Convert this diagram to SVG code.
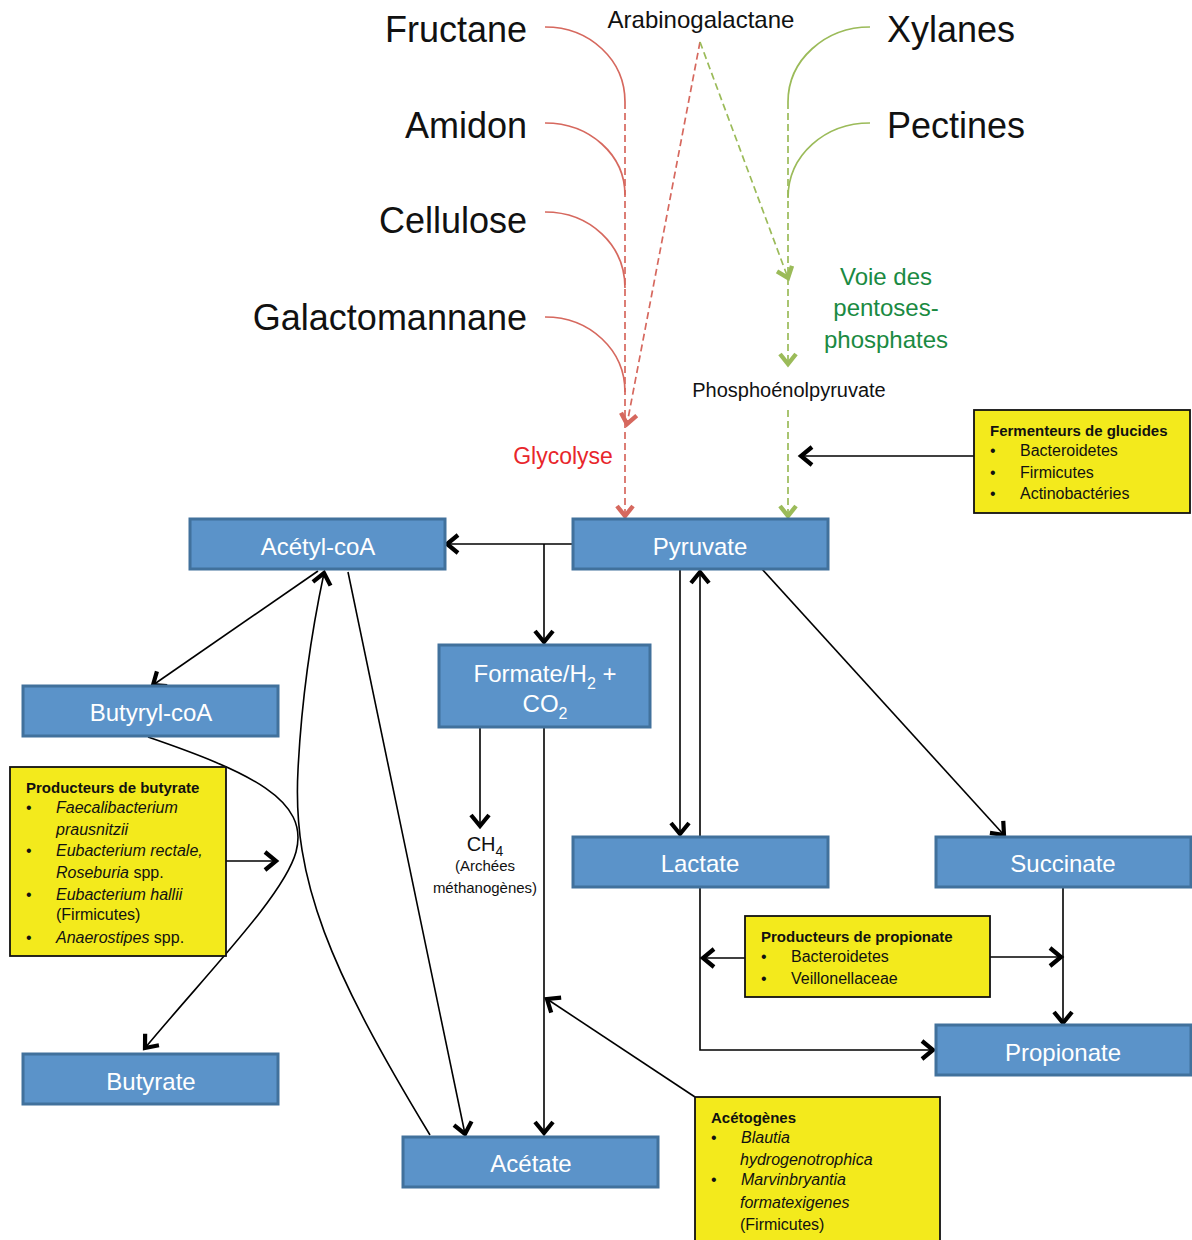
<svg xmlns="http://www.w3.org/2000/svg" width="1192" height="1240" viewBox="0 0 1192 1240">
<style>
text{font-family:"Liberation Sans",Arial,sans-serif}
.node rect.b{fill:#5B93C9;stroke:#41719C;stroke-width:3}
.node text{fill:#fff;font-size:24px;text-anchor:middle}
.note rect{fill:#F3EA1C;stroke:#111;stroke-width:1.8}
.note text{font-size:16px;fill:#111}
.note .t{font-weight:bold;font-size:15px}
.note .i{font-style:italic}
.big{font-size:36px;fill:#111}
.ln{fill:none;stroke:#000;stroke-width:1.6}
.red{fill:none;stroke:#D6685E;stroke-width:1.7}
.grn{fill:none;stroke:#9BBB59;stroke-width:1.7}
.dash{stroke-dasharray:7 4}
</style>
<defs>
<marker id="ab" markerUnits="userSpaceOnUse" markerWidth="30" markerHeight="30" viewBox="-15 -15 30 30" refX="0" refY="0" orient="auto"><path d="M-11,-9 L0,0 L-11,9" fill="none" stroke="#000" stroke-width="4.2" stroke-linejoin="miter"/></marker>
<marker id="ar" markerUnits="userSpaceOnUse" markerWidth="30" markerHeight="30" viewBox="-15 -15 30 30" refX="0" refY="0" orient="auto"><path d="M-10,-8 L0,0 L-10,8" fill="none" stroke="#D6685E" stroke-width="4.4"/></marker>
<marker id="ag" markerUnits="userSpaceOnUse" markerWidth="30" markerHeight="30" viewBox="-15 -15 30 30" refX="0" refY="0" orient="auto"><path d="M-10,-8 L0,0 L-10,8" fill="none" stroke="#9BBB59" stroke-width="4.4"/></marker>
</defs>
<rect width="1192" height="1240" fill="#fff"/>

<g id="sources">
<text class="big" x="527" y="42" text-anchor="end">Fructane</text>
<text class="big" x="527" y="138" text-anchor="end">Amidon</text>
<text class="big" x="527" y="233" text-anchor="end">Cellulose</text>
<text class="big" x="527" y="330" text-anchor="end">Galactomannane</text>
<text class="big" x="887" y="42">Xylanes</text>
<text class="big" x="887" y="138">Pectines</text>
<text x="701" y="28" font-size="24" text-anchor="middle" fill="#111">Arabinogalactane</text>
<text x="789" y="397" font-size="20" text-anchor="middle" fill="#111">Phosphoénolpyruvate</text>
<text x="563" y="464" font-size="23" text-anchor="middle" fill="#E8262B">Glycolyse</text>
<g font-size="24" text-anchor="middle" fill="#1A8A42">
<text x="886" y="285">Voie des</text>
<text x="886" y="316">pentoses-</text>
<text x="886" y="348">phosphates</text>
</g>
</g>

<g id="connectors">
<path class="red" d="M545,27 C590,27 625,60 625,102"/>
<path class="red" d="M545,123 C590,123 625,155 625,195"/>
<path class="red" d="M545,212 C590,212 625,245 625,288"/>
<path class="red" d="M545,317 C590,317 625,350 625,392"/>
<path class="red dash" d="M625,102 L625,516" marker-end="url(#ar)"/>
<path class="red dash" d="M700,42 L627,424" marker-end="url(#ar)"/>
<path class="grn" d="M870,27 C825,27 788,60 788,102"/>
<path class="grn" d="M870,123 C825,123 788,155 788,198"/>
<path class="grn dash" d="M788,102 L788,364" marker-end="url(#ag)"/>
<path class="grn dash" d="M700,42 L788,278" marker-end="url(#ag)"/>
<path class="grn dash" d="M788,410 L788,516" marker-end="url(#ag)"/>
<path class="ln" d="M572,544 L447,544" marker-end="url(#ab)"/>
<path class="ln" d="M544,544 L544,642" marker-end="url(#ab)"/>
<path class="ln" d="M318,571 L153,685" marker-end="url(#ab)"/>
<path class="ln" d="M148,737 C250,772 310,800 296,852 C284,895 210,970 145,1048" marker-end="url(#ab)"/>
<path class="ln" d="M226,861 L276,861" marker-end="url(#ab)"/>
<path class="ln" d="M430,1135 C330,970 292,880 298,770 C302,690 313,625 324,573" marker-end="url(#ab)"/>
<path class="ln" d="M348,572 L465,1134" marker-end="url(#ab)"/>
<path class="ln" d="M480,727 L480,826" marker-end="url(#ab)"/>
<path class="ln" d="M544,727 L544,1133" marker-end="url(#ab)"/>
<path class="ln" d="M695,1097 L547,999" marker-end="url(#ab)"/>
<path class="ln" d="M680,570 L680,834" marker-end="url(#ab)"/>
<path class="ln" d="M700,836 L700,572" marker-end="url(#ab)"/>
<path class="ln" d="M762,569 L1004,835" marker-end="url(#ab)"/>
<path class="ln" d="M974,456 L801,456" marker-end="url(#ab)"/>
<path class="ln" d="M700,887 L700,1050 L933,1050" marker-end="url(#ab)"/>
<path class="ln" d="M745,958 L703,958" marker-end="url(#ab)"/>
<path class="ln" d="M990,957 L1061,957" marker-end="url(#ab)"/>
<path class="ln" d="M1063,887 L1063,1023" marker-end="url(#ab)"/>
</g>

<g id="acetylcoa" class="node"><rect class="b" x="190" y="519" width="255" height="50"/><text x="318" y="555">Acétyl-coA</text></g>
<g id="pyruvate" class="node"><rect class="b" x="573" y="519" width="255" height="50"/><text x="700" y="555">Pyruvate</text></g>
<g id="formate" class="node"><rect class="b" x="439" y="645" width="211" height="82"/>
<text x="545" y="682">Formate/H<tspan font-size="16" dy="7">2</tspan><tspan dy="-7"> +</tspan></text>
<text x="545" y="712">CO<tspan font-size="16" dy="7">2</tspan></text></g>
<g id="butyrylcoa" class="node"><rect class="b" x="23" y="686" width="255" height="50"/><text x="151" y="721">Butyryl-coA</text></g>
<g id="lactate" class="node"><rect class="b" x="573" y="837" width="255" height="50"/><text x="700" y="872">Lactate</text></g>
<g id="succinate" class="node"><rect class="b" x="936" y="837" width="255" height="50"/><text x="1063" y="872">Succinate</text></g>
<g id="propionate" class="node"><rect class="b" x="936" y="1025" width="255" height="50"/><text x="1063" y="1061">Propionate</text></g>
<g id="butyrate" class="node"><rect class="b" x="23" y="1054" width="255" height="50"/><text x="151" y="1090">Butyrate</text></g>
<g id="acetate" class="node"><rect class="b" x="403" y="1137" width="255" height="50"/><text x="531" y="1172">Acétate</text></g>

<g id="ch4">
<text x="485" y="851" font-size="20" text-anchor="middle" fill="#111">CH<tspan font-size="14" dy="5">4</tspan></text>
<text x="485" y="871" font-size="15" text-anchor="middle" fill="#111">(Archées</text>
<text x="485" y="893" font-size="15" text-anchor="middle" fill="#111">méthanogènes)</text>
</g>

<g id="fermenteurs" class="note"><rect x="974" y="410" width="216" height="103"/>
<text class="t" x="990" y="436">Fermenteurs de glucides</text>
<text x="990" y="456">•</text><text x="1020" y="456">Bacteroidetes</text>
<text x="990" y="478">•</text><text x="1020" y="478">Firmicutes</text>
<text x="990" y="499">•</text><text x="1020" y="499">Actinobactéries</text>
</g>

<g id="prodbutyrate" class="note"><rect x="10" y="767" width="216" height="189"/>
<text class="t" x="26" y="793">Producteurs de butyrate</text>
<text x="26" y="813">•</text><text class="i" x="56" y="813">Faecalibacterium</text>
<text class="i" x="56" y="835">prausnitzii</text>
<text x="26" y="856">•</text><text class="i" x="56" y="856">Eubacterium rectale,</text>
<text x="56" y="878"><tspan font-style="italic">Roseburia</tspan> spp.</text>
<text x="26" y="900">•</text><text class="i" x="56" y="900">Eubacterium hallii</text>
<text x="56" y="920">(Firmicutes)</text>
<text x="26" y="943">•</text><text x="56" y="943"><tspan font-style="italic">Anaerostipes</tspan> spp.</text>
</g>

<g id="prodpropionate" class="note"><rect x="745" y="916" width="245" height="81"/>
<text class="t" x="761" y="942">Producteurs de propionate</text>
<text x="761" y="962">•</text><text x="791" y="962">Bacteroidetes</text>
<text x="761" y="984">•</text><text x="791" y="984">Veillonellaceae</text>
</g>

<g id="acetogenes" class="note"><rect x="695" y="1097" width="245" height="150"/>
<text class="t" x="711" y="1123">Acétogènes</text>
<text x="711" y="1143">•</text><text class="i" x="741" y="1143">Blautia</text>
<text class="i" x="740" y="1165">hydrogenotrophica</text>
<text x="711" y="1185">•</text><text class="i" x="741" y="1185">Marvinbryantia</text>
<text class="i" x="740" y="1208">formatexigenes</text>
<text x="740" y="1230">(Firmicutes)</text>
</g>
</svg>
